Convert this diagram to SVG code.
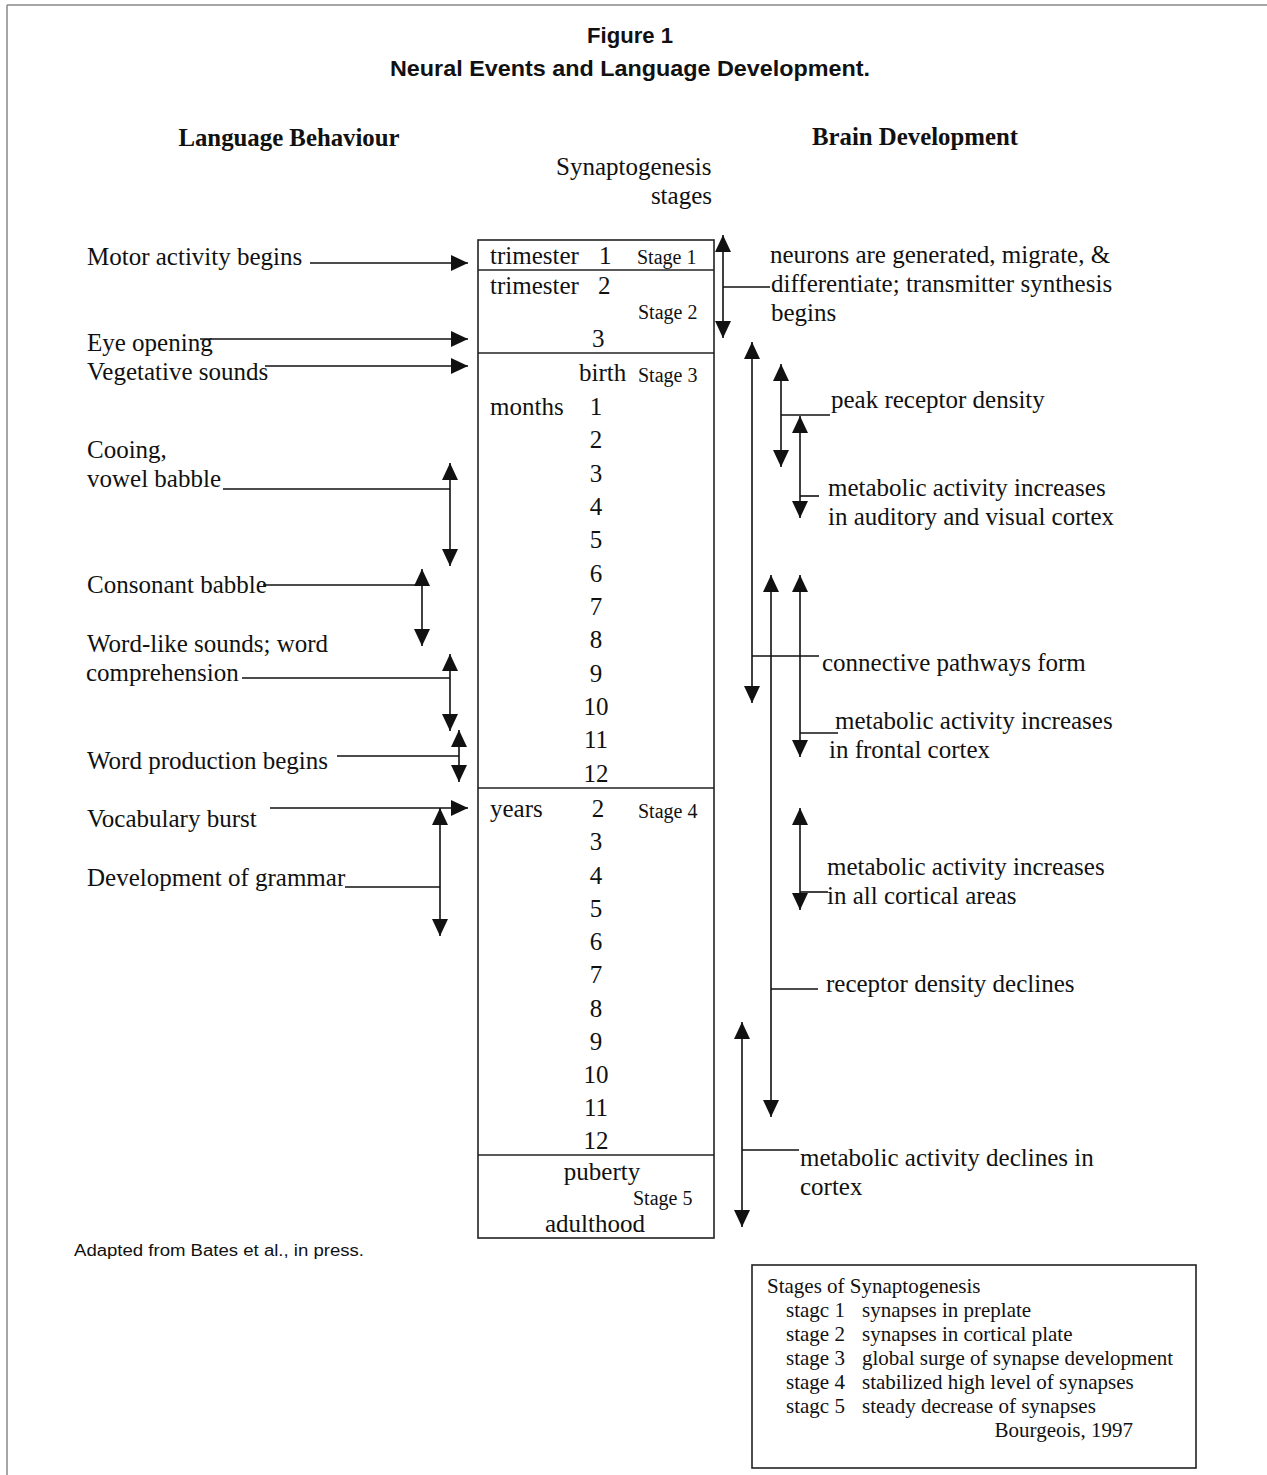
<svg xmlns="http://www.w3.org/2000/svg" width="1267" height="1475" viewBox="0 0 1267 1475">
<style>
.t{font-family:"Liberation Serif","Times New Roman",serif;font-size:25px;fill:#111}
.s{font-family:"Liberation Serif","Times New Roman",serif;font-size:20px;fill:#111}
.l{font-family:"Liberation Serif","Times New Roman",serif;font-size:21px;fill:#111}
.h{font-family:"Liberation Serif","Times New Roman",serif;font-size:24.8px;font-weight:bold;fill:#111}
.ti{font-family:"Liberation Sans",Arial,sans-serif;font-size:22px;font-weight:bold;fill:#111}
.n{text-anchor:middle}
.c line{stroke:#111;stroke-width:1.6;fill:none}
.box{fill:none;stroke:#222;stroke-width:1.6}
</style>
<defs>
<marker id="ah" viewBox="0 0 17 16" refX="17" refY="8" markerWidth="17" markerHeight="16" markerUnits="userSpaceOnUse" orient="auto-start-reverse"><path d="M0,0 L17,8 L0,16 z" fill="#111"/></marker>
</defs>
<rect width="1267" height="1475" fill="#fff"/>
<g id="page-border" fill="none" stroke="#888" stroke-width="1.5">
<line x1="7" y1="5" x2="1267" y2="5"/>
<line x1="7" y1="5" x2="7" y2="1475"/>
</g>
<g id="title">
<text class="ti n" x="630" y="43" textLength="86" lengthAdjust="spacingAndGlyphs">Figure 1</text>
<text class="ti n" x="630" y="76" textLength="480" lengthAdjust="spacingAndGlyphs">Neural Events and Language Development.</text>
</g>
<g id="headers">
<text class="h n" x="289" y="146">Language Behaviour</text>
<text class="h n" x="915" y="145">Brain Development</text>
<text class="t" x="556" y="175">Synaptogenesis</text>
<text class="t" x="712" y="204" text-anchor="end">stages</text>
</g>
<g id="timeline">
<rect class="box" x="478" y="240" width="236" height="998"/>
<line class="box" x1="478" y1="270" x2="714" y2="270"/>
<line class="box" x1="478" y1="353" x2="714" y2="353"/>
<line class="box" x1="478" y1="788" x2="714" y2="788"/>
<line class="box" x1="478" y1="1155" x2="714" y2="1155"/>
<text class="t" x="490" y="264">trimester</text><text class="t" x="599" y="264">1</text>
<text class="s" x="637" y="264">Stage 1</text>
<text class="t" x="490" y="294">trimester</text><text class="t" x="598" y="294">2</text>
<text class="s" x="638" y="319">Stage 2</text>
<text class="t" x="592" y="347">3</text>
<text class="t" x="579" y="381">birth</text>
<text class="s" x="638" y="382">Stage 3</text>
<text class="t" x="490" y="415">months</text>
<g class="t n">
<text x="596" y="415">1</text><text x="596" y="448">2</text><text x="596" y="482">3</text><text x="596" y="515">4</text>
<text x="596" y="548">5</text><text x="596" y="582">6</text><text x="596" y="615">7</text><text x="596" y="648">8</text>
<text x="596" y="682">9</text><text x="596" y="715">10</text><text x="596" y="748">11</text><text x="596" y="782">12</text>
</g>
<text class="t" x="490" y="817">years</text>
<text class="s" x="638" y="818">Stage 4</text>
<g class="t n">
<text x="598" y="817">2</text><text x="596" y="850">3</text><text x="596" y="884">4</text><text x="596" y="917">5</text>
<text x="596" y="950">6</text><text x="596" y="983">7</text><text x="596" y="1017">8</text><text x="596" y="1050">9</text>
<text x="596" y="1083">10</text><text x="596" y="1116">11</text><text x="596" y="1149">12</text>
</g>
<text class="t n" x="602" y="1180">puberty</text>
<text class="s" x="633" y="1205">Stage 5</text>
<text class="t n" x="595" y="1232">adulthood</text>
</g>
<g id="lang-motor"><text class="t" x="87" y="265">Motor activity begins</text></g>
<g id="lang-eye"><text class="t" x="87" y="351">Eye opening</text></g>
<g id="lang-vegetative"><text class="t" x="87" y="380">Vegetative sounds</text></g>
<g id="lang-cooing"><text class="t" x="87" y="458">Cooing,</text><text class="t" x="87" y="487">vowel babble</text></g>
<g id="lang-consonant"><text class="t" x="87" y="593">Consonant babble</text></g>
<g id="lang-wordlike"><text class="t" x="87" y="652">Word-like sounds; word</text><text class="t" x="86" y="681">comprehension</text></g>
<g id="lang-wordprod"><text class="t" x="87" y="769">Word production begins</text></g>
<g id="lang-vocab"><text class="t" x="87" y="827">Vocabulary burst</text></g>
<g id="lang-grammar"><text class="t" x="87" y="886">Development of grammar</text></g>
<g id="brain-neurons"><text class="t" x="770" y="263">neurons are generated, migrate, &amp;</text><text class="t" x="771" y="292">differentiate; transmitter synthesis</text><text class="t" x="771" y="321">begins</text></g>
<g id="brain-peak"><text class="t" x="831" y="408">peak receptor density</text></g>
<g id="brain-auditory"><text class="t" x="828" y="496">metabolic activity increases</text><text class="t" x="828" y="525">in auditory and visual cortex</text></g>
<g id="brain-connective"><text class="t" x="822" y="671">connective pathways form</text></g>
<g id="brain-frontal"><text class="t" x="835" y="729">metabolic activity increases</text><text class="t" x="829" y="758">in frontal cortex</text></g>
<g id="brain-allcortical"><text class="t" x="827" y="875">metabolic activity increases</text><text class="t" x="827" y="904">in all cortical areas</text></g>
<g id="brain-receptor-decline"><text class="t" x="826" y="992">receptor density declines</text></g>
<g id="brain-metab-decline"><text class="t" x="800" y="1166">metabolic activity declines in</text><text class="t" x="800" y="1195">cortex</text></g>
<g id="credit"><text x="74" y="1256" font-family="Liberation Sans, Arial, sans-serif" font-size="16" fill="#111" textLength="290" lengthAdjust="spacingAndGlyphs">Adapted from Bates et al., in press.</text></g>
<g id="legend">
<rect class="box" x="752" y="1265" width="444" height="203"/>
<text class="l" x="767" y="1293">Stages of Synaptogenesis</text>
<text class="l" x="786" y="1317">stagc 1</text><text class="l" x="862" y="1317">synapses in preplate</text>
<text class="l" x="786" y="1341">stage 2</text><text class="l" x="862" y="1341">synapses in cortical plate</text>
<text class="l" x="786" y="1365">stage 3</text><text class="l" x="862" y="1365">global surge of synapse development</text>
<text class="l" x="786" y="1389">stage 4</text><text class="l" x="862" y="1389">stabilized high level of synapses</text>
<text class="l" x="786" y="1413">stagc 5</text><text class="l" x="862" y="1413">steady decrease of synapses</text>
<text class="l" x="1133" y="1437" text-anchor="end">Bourgeois, 1997</text>
</g>
<g id="connectors" class="c">
<line x1="310" y1="263" x2="468" y2="263" marker-end="url(#ah)"/>
<line x1="200" y1="339" x2="468" y2="339" marker-end="url(#ah)"/>
<line x1="265" y1="366" x2="468" y2="366" marker-end="url(#ah)"/>
<line x1="223" y1="489" x2="450" y2="489"/>
<line x1="450" y1="463" x2="450" y2="566" marker-start="url(#ah)" marker-end="url(#ah)"/>
<line x1="263" y1="585" x2="422" y2="585"/>
<line x1="422" y1="569" x2="422" y2="646" marker-start="url(#ah)" marker-end="url(#ah)"/>
<line x1="242" y1="678" x2="450" y2="678"/>
<line x1="450" y1="654" x2="450" y2="731" marker-start="url(#ah)" marker-end="url(#ah)"/>
<line x1="337" y1="756" x2="459" y2="756"/>
<line x1="459" y1="730" x2="459" y2="782" marker-start="url(#ah)" marker-end="url(#ah)"/>
<line x1="270" y1="808" x2="468" y2="808" marker-end="url(#ah)"/>
<line x1="345" y1="887" x2="440" y2="887"/>
<line x1="440" y1="808" x2="440" y2="936" marker-start="url(#ah)" marker-end="url(#ah)"/>
<line x1="723" y1="235" x2="723" y2="338" marker-start="url(#ah)" marker-end="url(#ah)"/>
<line x1="723" y1="287" x2="770" y2="287"/>
<line x1="752" y1="342" x2="752" y2="703" marker-start="url(#ah)" marker-end="url(#ah)"/>
<line x1="752" y1="656" x2="819" y2="656"/>
<line x1="781" y1="364" x2="781" y2="467" marker-start="url(#ah)" marker-end="url(#ah)"/>
<line x1="781" y1="415" x2="830" y2="415"/>
<line x1="800" y1="416" x2="800" y2="518" marker-start="url(#ah)" marker-end="url(#ah)"/>
<line x1="800" y1="496" x2="819" y2="496"/>
<line x1="771" y1="575" x2="771" y2="1117" marker-start="url(#ah)" marker-end="url(#ah)"/>
<line x1="771" y1="989" x2="818" y2="989"/>
<line x1="800" y1="575" x2="800" y2="757" marker-start="url(#ah)" marker-end="url(#ah)"/>
<line x1="800" y1="733" x2="838" y2="733"/>
<line x1="800" y1="808" x2="800" y2="910" marker-start="url(#ah)" marker-end="url(#ah)"/>
<line x1="800" y1="892" x2="828" y2="892"/>
<line x1="742" y1="1022" x2="742" y2="1227" marker-start="url(#ah)" marker-end="url(#ah)"/>
<line x1="742" y1="1150" x2="799" y2="1150"/>
</g>
</svg>
